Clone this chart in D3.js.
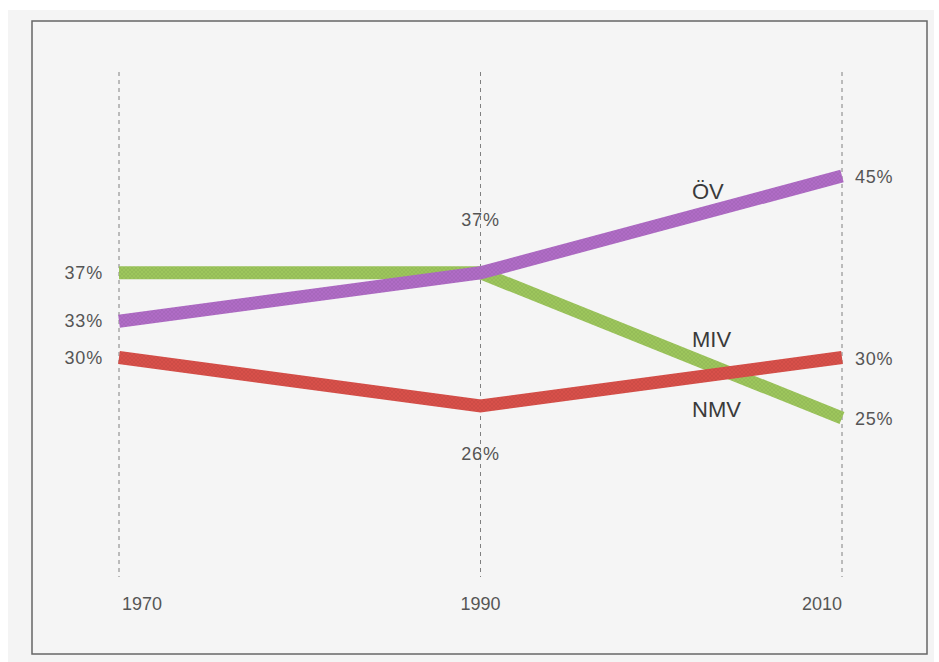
<!DOCTYPE html>
<html>
<head>
<meta charset="utf-8">
<script src="https://cdn.jsdelivr.net/npm/d3@7"></script>
<style>
    body { margin: 0; background: #ffffff; }
    svg { display: block; }
    .pct { font-family: "Liberation Sans", Arial, sans-serif; font-size: 18px; fill: #555; letter-spacing: 0.8px; }
    .year { font-family: "Liberation Sans Narrow", "Liberation Sans", Arial, sans-serif; font-size: 19px; fill: #555; }
    .series-label { font-family: "Liberation Sans", Arial, sans-serif; font-size: 22px; fill: #3a3a3a; }
</style>
</head>
<body>
<div id="chart"></div>
<script>
// data
var years = ["1970", "1990", "2010"];
var seriesNames = ["ÖV", "MIV", "NMV"];
var oevValues = [33, 37, 45];
var mivValues = [37, 37, 25];
var nmvValues = [30, 26, 30];
var seriesColors = ["#b06cc6", "#9dc65c", "#d8504a"];

var allValues = [oevValues, mivValues, nmvValues];

var svgWidth = 939;
var svgHeight = 662;

var svg = d3.select("#chart")
    .append("svg")
    .attr("width", svgWidth)
    .attr("height", svgHeight);

// halftone-ish texture for the thick strokes
var defs = svg.append("defs");
seriesColors.forEach(function (c, i) {
    var p = defs.append("pattern")
        .attr("id", "tex" + i)
        .attr("patternUnits", "userSpaceOnUse")
        .attr("width", 4)
        .attr("height", 4);
    p.append("rect").attr("width", 4).attr("height", 4).attr("fill", c);
    p.append("path")
        .attr("d", "M0,4 L4,0 M0,0 L4,4")
        .attr("stroke", d3.color(c).darker(0.35))
        .attr("stroke-width", 0.7)
        .attr("opacity", 0.6);
});

// scanned page + frame
svg.append("rect")
    .attr("x", 8).attr("y", 10)
    .attr("width", 926).attr("height", 652)
    .attr("fill", "#f4f4f4");

svg.append("rect")
    .attr("x", 32).attr("y", 21)
    .attr("width", 895).attr("height", 633)
    .attr("fill", "#f5f5f5")
    .attr("stroke", "#666")
    .attr("stroke-width", 1.5);

var xScale = d3.scalePoint()
    .domain(years)
    .range([119, 842]);

var yScale = d3.scaleLinear()
    .domain([25, 45])
    .range([418, 176]);

// dashed year guides
svg.selectAll(".guide")
    .data(years)
    .enter()
    .append("line")
    .classed("guide", true)
    .attr("x1", d => xScale(d))
    .attr("x2", d => xScale(d))
    .attr("y1", 72)
    .attr("y2", 577)
    .attr("stroke", "#808080")
    .attr("stroke-width", 1)
    .attr("stroke-dasharray", "4,4");

// year labels: first left aligned, middle centred, last right aligned
var anchors = ["start", "middle", "end"];
svg.selectAll(".year")
    .data(years)
    .enter()
    .append("text")
    .classed("year", true)
    .attr("x", (d, i) => xScale(d) + (i == 0 ? 3 : 0))
    .attr("y", 610)
    .attr("text-anchor", (d, i) => anchors[i])
    .attr("textLength", 40)
    .attr("lengthAdjust", "spacingAndGlyphs")
    .text(d => d);

var line = d3.line()
    .x((d, i) => xScale(years[i]))
    .y(d => yScale(d));

// draw order: MIV under ÖV, NMV on top of MIV
var order = [1, 0, 2];
order.forEach(function (k) {
    svg.append("path")
        .datum(allValues[k])
        .attr("d", line)
        .attr("fill", "none")
        .attr("stroke", "url(#tex" + k + ")")
        .attr("stroke-width", 13)
        .attr("stroke-linejoin", "miter")
        .attr("stroke-linecap", "butt");
});

// value labels
function addPct(x, y, txt, anchor) {
    svg.append("text")
        .classed("pct", true)
        .attr("x", x)
        .attr("y", y)
        .attr("text-anchor", anchor)
        .text(txt);
}

var x0 = xScale(years[0]), x1 = xScale(years[1]), x2 = xScale(years[2]);

// left column
allValues.forEach(function (vals) {
    addPct(x0 - 16, yScale(vals[0]) + 6, vals[0] + "%", "end");
});
// 1990: shared 37% above the crossing, NMV below
addPct(x1, yScale(mivValues[1]) - 47, mivValues[1] + "%", "middle");
addPct(x1, yScale(nmvValues[1]) + 54, nmvValues[1] + "%", "middle");
// right column
allValues.forEach(function (vals) {
    addPct(x2 + 13, yScale(vals[2]) + 7, vals[2] + "%", "start");
});

// series names next to their lines
var labelX = [692, 692, 692];
var labelOffset = [-13, -17, 42];
seriesNames.forEach(function (name, k) {
    var vals = allValues[k];
    var t = (labelX[k] + 16 - x1) / (x2 - x1);
    var yLine = yScale(vals[1]) + t * (yScale(vals[2]) - yScale(vals[1]));
    svg.append("text")
        .classed("series-label", true)
        .attr("x", labelX[k])
        .attr("y", yLine + labelOffset[k])
        .text(name);
});
</script>
</body>
</html>
